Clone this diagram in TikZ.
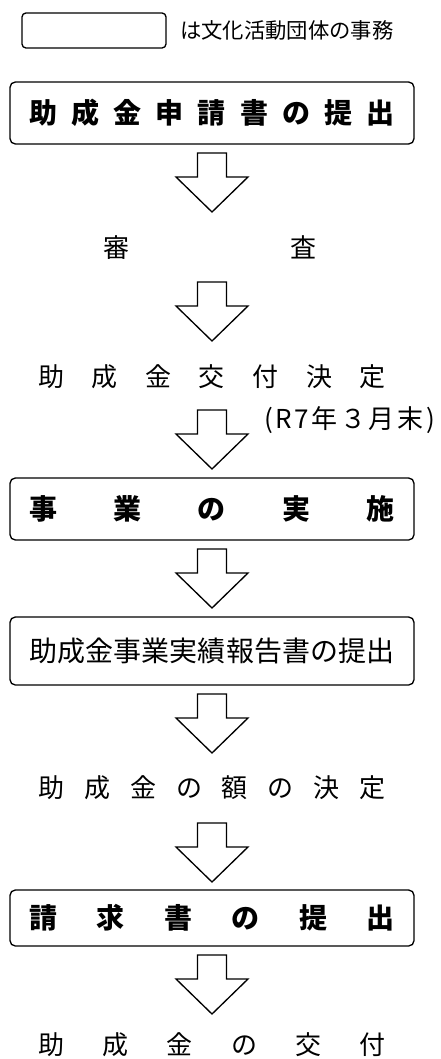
\documentclass[tikz,border=0pt]{standalone}
\usepackage{fontspec}
\setmainfont{Noto Sans CJK JP}
\usetikzlibrary{positioning}

\newcommand{\spreadtext}[2]{\makebox[#1][s]{#2}}

\tikzset{
	blockarrow/.pic={
		\draw[line width=1pt,fill=white] (-14.5,0) -- (14.5,0) -- (14.5,24) -- (36,24)
			-- (0,59) -- (-36,24) -- (-14.5,24) -- cycle;
	}
}

\begin{document}
\begin{tikzpicture}[x=0.75pt,y=-0.75pt,
		stepbox/.style={draw,line width=1pt,rounded corners=4pt,minimum width=303pt,inner sep=0pt},
		boldtext/.style={font=\fontsize{21}{21}\selectfont\bfseries},
		plaintext/.style={font=\fontsize{21}{21}\selectfont},
		steptext/.style={inner sep=0pt,font=\fontsize{19.5}{19.5}\selectfont}]
		\useasboundingbox (0,0) rectangle (440,1059);

		% legend
		\node[draw,line width=1pt,rounded corners=3pt,minimum width=108pt,minimum height=26.25pt,inner sep=0pt] (legend) at (94,30.5) {};
		\node[anchor=west,inner sep=0pt,font=\fontsize{16}{16}\selectfont] (legendtext) at (180,30.5) {は文化活動団体の事務};

		% flow
		\node[stepbox,boldtext,minimum height=46.5pt] (apply) at (212,113) {\spreadtext{274.5pt}{助\hfill 成\hfill 金\hfill 申\hfill 請\hfill 書\hfill の\hfill 提\hfill 出}};
		\node[steptext] (review) at (210,248) {\spreadtext{160pt}{審\hfill 査}};
		\node[steptext] (decision) at (212,377) {\spreadtext{261pt}{助\hfill 成\hfill 金\hfill 交\hfill 付\hfill 決\hfill 定}};
		\node[anchor=west,inner sep=0pt,font=\fontsize{19.5}{19.5}\selectfont] (deadline) at (264,420) {\spreadtext{128pt}{(\hfill R\hfill 7\hfill 年\hfill ３\hfill 月\hfill 末\hfill )}};
		\node[stepbox,boldtext,minimum height=46.5pt] (project) at (212,509) {\spreadtext{274.5pt}{事\hfill 業\hfill の\hfill 実\hfill 施}};
		\node[stepbox,plaintext,minimum height=51pt] (report) at (212,651) {\spreadtext{274.5pt}{助\hfill 成\hfill 金\hfill 事\hfill 業\hfill 実\hfill 績\hfill 報\hfill 告\hfill 書\hfill の\hfill 提\hfill 出}};
		\node[steptext] (amount) at (212,788) {\spreadtext{260pt}{助\hfill 成\hfill 金\hfill の\hfill 額\hfill の\hfill 決\hfill 定}};
		\node[stepbox,boldtext,minimum height=42pt] (claim) at (212,918) {\spreadtext{274.5pt}{請\hfill 求\hfill 書\hfill の\hfill 提\hfill 出}};
		\node[steptext] (payment) at (212,1045) {\spreadtext{260pt}{助\hfill 成\hfill 金\hfill の\hfill 交\hfill 付}};

		% arrows
		\foreach \t in {153,282,410,549,694,823,955}
			\pic at (212,\t) {blockarrow};
\end{tikzpicture}
\end{document}
